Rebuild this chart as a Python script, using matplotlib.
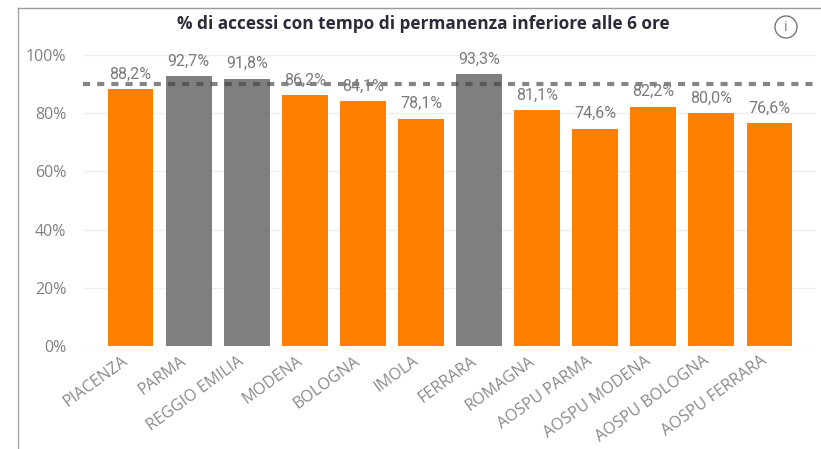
import matplotlib
matplotlib.use('Agg')
import matplotlib.pyplot as plt
from matplotlib.patches import Circle
from matplotlib.transforms import ScaledTranslation

reparti = ['PIACENZA', 'PARMA', 'REGGIO EMILIA', 'MODENA', 'BOLOGNA', 'IMOLA', 'FERRARA',
           'ROMAGNA', 'AOSPU PARMA', 'AOSPU MODENA', 'AOSPU BOLOGNA', 'AOSPU FERRARA']
valori = [88.2, 92.7, 91.8, 86.2, 84.1, 78.1, 93.3, 81.1, 74.6, 82.2, 80.0, 76.6]
soglia = 90
tick_y = [0, 20, 40, 60, 80, 100]

W, H = 821, 449
fig = plt.figure(figsize=(W / 100, H / 100), dpi=100, facecolor='white')

# area del grafico in pixel
left, right, top, bottom = 83, 816, 55, 346
ax = fig.add_axes([left / W, 1 - bottom / H, (right - left) / W, (bottom - top) / H])

colori = ['#7f7f7f' if v >= soglia else '#ff8000' for v in valori]
pos = range(len(reparti))
ax.bar(pos, valori, width=0.79, color=colori, zorder=2)
ax.axhline(soglia, color='#444444', alpha=0.65, lw=3, dashes=(1.7, 1.7), zorder=3)

for i, v in enumerate(valori):
    ax.text(i, v + 5.2, f'{v:.1f}%'.replace('.', ','), ha='center', va='center',
            fontsize=11.5, color='#7b7b7b', family='Roboto', zorder=4)

ax.set_xlim(-0.818, 11.8)
ax.set_ylim(0, 100)
ax.set_yticks(tick_y)
ax.set_yticklabels([f'{t}%' for t in tick_y], fontsize=11.5, color='#808080', family='Open Sans')
ax.set_xticks(list(pos))
ax.set_xticklabels(reparti, rotation=36, ha='right', rotation_mode='anchor',
                   fontsize=11.6, color='#8a8a8a', family='Open Sans')
ax.tick_params(axis='both', length=0)
ax.tick_params(axis='x', pad=5)
ax.tick_params(axis='y', pad=12)
# sposta le etichette verso sinistra
sposta = ScaledTranslation(-9 / 100, 0, fig.dpi_scale_trans)
for t in ax.get_xticklabels():
    t.set_transform(t.get_transform() + sposta)
ax.grid(True, axis='y', color='#eeeeee', lw=1, zorder=0)
ax.set_axisbelow(True)
for s in ax.spines.values():
    s.set_visible(False)

# cornice e icona info
ov = fig.add_axes([0, 0, 1, 1], facecolor='none')
ov.set_xlim(0, W)
ov.set_ylim(H, 0)
ov.axis('off')
ov.plot([18, 18], [449, 8], color='#a5a5a5', lw=1)
ov.plot([18, 821], [8, 8], color='#9a9a9a', lw=1)
ov.add_patch(Circle((786, 27), 11, fill=False, ec='#777777', lw=1))
ov.text(786, 27.5, 'i', ha='center', va='center', fontsize=10, color='#777777', family='Open Sans')
ov.text(423, 24, '% di accessi con tempo di permanenza inferiore alle 6 ore', ha='center', va='center',
        fontsize=12.4, fontweight='bold', color='#2b2b3a', family='Open Sans')

fig.savefig('out.png', dpi=100)
